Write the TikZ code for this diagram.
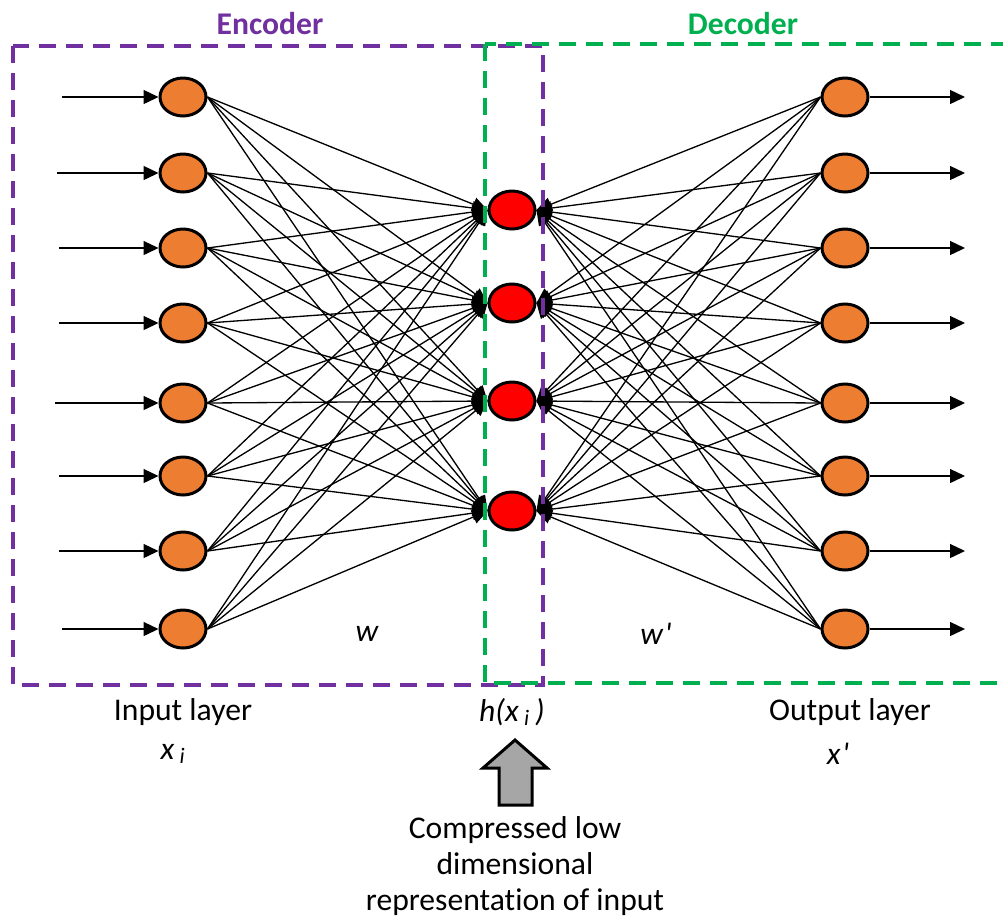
\documentclass[tikz,border=0pt]{standalone}
\usepackage{fontspec}
\setmainfont{Carlito}[Ligatures={NoCommon}]
\usetikzlibrary{arrows.meta,shapes.geometric}
\definecolor{unitorange}{HTML}{ED7D31}
\definecolor{encpurple}{HTML}{7030A0}
\definecolor{decgreen}{HTML}{00B050}
\definecolor{blockgray}{HTML}{A6A6A6}
\tikzset{
  unit/.style={ellipse, draw=black, line width=1.7pt, minimum width=0.92cm, minimum height=0.76cm, inner sep=0pt},
  ionode/.style={unit, fill=unitorange},
  codenode/.style={unit, fill=red},
  wire/.style={line width=0.75pt, -{Triangle[length=0.3cm,width=0.28cm]}},
  link/.style={line width=0.75pt, -{Triangle[length=0.3cm,width=0.28cm]}},
  region/.style={line width=2pt, dash pattern=on 0.34cm off 0.2cm},
  lbl/.style={font=\fontsize{18}{21}\selectfont, inner sep=0pt},
  title/.style={font=\fontsize{18}{21}\selectfont\bfseries, inner sep=0pt},
}
\begin{document}
\begin{tikzpicture}[x=0.02cm, y=-0.02cm]
\useasboundingbox (0,0) rectangle (1003,921);

% input and output layers
\foreach \i/\y/\s in {1/97/62,2/173/57,3/248/59,4/323/59,5/403/55,6/476/59,7/551/59,8/629/62} {
  \node[ionode] (in\i) at (183,\y) {};
  \node[ionode] (out\i) at (845,\y) {};
  \coordinate (src\i) at (\s,\y);
  \coordinate (dst\i) at (965,\y);
}
% compressed code layer
\foreach \j/\y in {1/210,2/303,3/401,4/511} {
  \node[codenode] (h\j) at (512,\y) {};
}

% external inputs and outputs
\foreach \i in {1,...,8} {
  \draw[wire] (src\i) -- (in\i.west);
  \draw[wire] (out\i.east) -- (dst\i);
}

% weights w and w'
\foreach \i in {1,...,8} {
  \foreach \j in {1,...,4} {
    \draw[link] (in\i.east) -- (h\j.west);
    \draw[link] (out\i.west) -- (h\j.east);
  }
}

% encoder and decoder regions
\draw[region, encpurple] (13,46) rectangle (543,685);
\draw[region, decgreen] (485,44) rectangle (1012,683);
\node[title, text=encpurple] (enc) at (270,24) {Encoder};
\node[title, text=decgreen] (dec) at (743,24) {Decoder};

% labels
\node[lbl] (w) at (367,634) {\itshape w};
\node[lbl] (wp) at (656,634) {\itshape w\kern1pt\textquotesingle};
\node[lbl] (inl) at (183,712) {Input layer};
\node[lbl] (xi) at (173,754) {\itshape x\,\textsubscript{i}};
\node[lbl] (hx) at (512,712) {\itshape h(x\,\textsubscript{i}\,)};
\node[lbl] (outl) at (850,712) {Output layer};
\node[lbl] (xp) at (838,754) {\itshape x\kern1pt\textquotesingle};

% block arrow pointing at the code
\draw[line width=1.7pt, fill=blockgray, line join=miter]
  (499,805) -- (499,768) -- (483,768) -- (515,740) -- (547,768) -- (532,768) -- (532,805) -- cycle;
\node[lbl, align=center, font=\fontsize{18}{20.5}\selectfont] (cmp) at (515,866)
  {Compressed low\\dimensional\\representation of input};
\end{tikzpicture}
\end{document}
